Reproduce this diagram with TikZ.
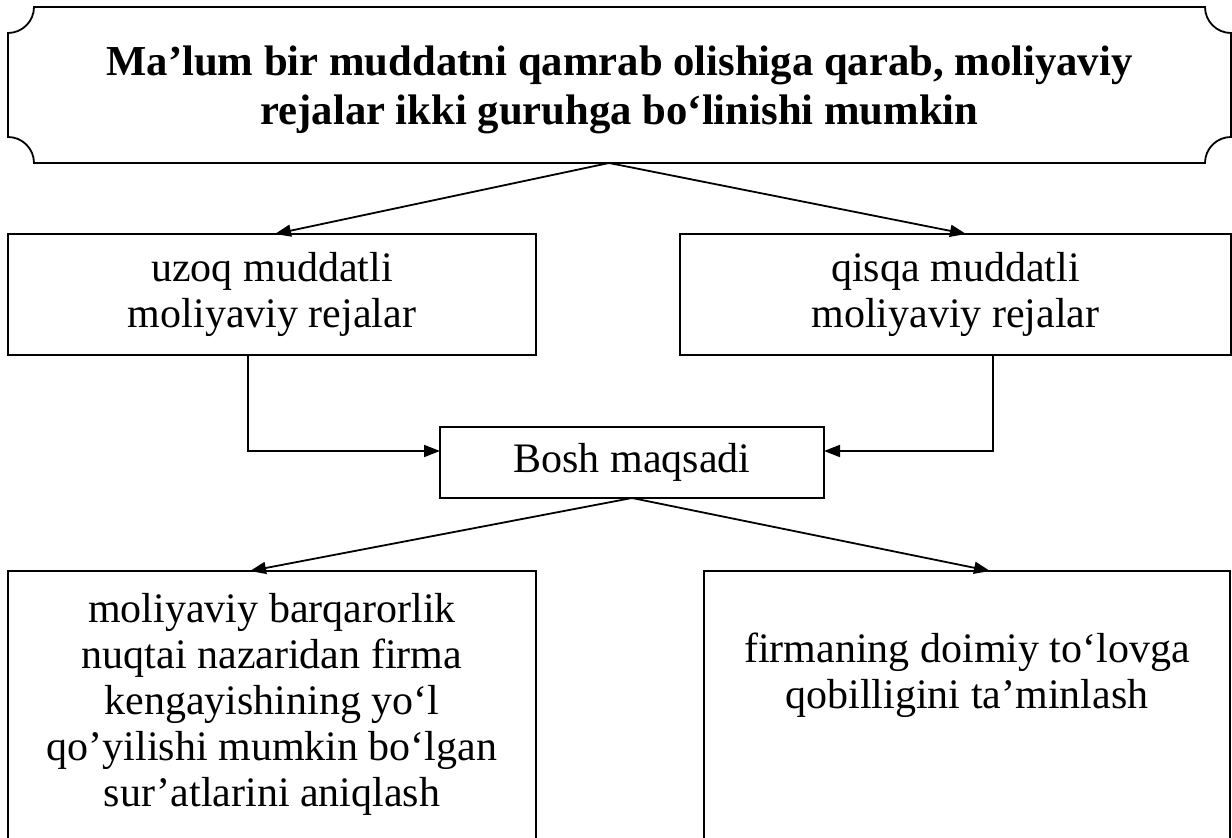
\documentclass[tikz,border=0pt]{standalone}
\usepackage{fontspec}
\setmainfont{Liberation Serif}
\usetikzlibrary{arrows.meta,calc}
\begin{document}
\begin{tikzpicture}[x=1pt,y=1pt,
  frame/.style={draw, line width=1.8pt, inner sep=0pt, outer sep=0pt},
  txt/.style={inner sep=0pt, align=center, font=\fontsize{42}{46}\selectfont},
  conn/.style={line width=1.8pt, -{Triangle[length=16pt,width=12pt]}}]
\useasboundingbox (0,0) rectangle (1232,838);
\clip (0,0) rectangle (1232,838);
% title plaque
\node[minimum width=1223pt, minimum height=156pt, inner sep=0pt, outer sep=0pt] (title) at (619.5,753) {};
\draw[line width=1.8pt] (34,831) -- (1205,831) arc[start angle=180,end angle=270,radius=26]
  -- (1231,701) arc[start angle=90,end angle=180,radius=26]
  -- (34,675) arc[start angle=0,end angle=90,radius=26]
  -- (8,805) arc[start angle=270,end angle=360,radius=26] -- cycle;
\node[txt, font=\bfseries\fontsize{42.7}{49}\selectfont] (titletext) at (619.5,748)
  {Ma’lum bir muddatni qamrab olishiga qarab, moliyaviy\\rejalar ikki guruhga bo‘linishi mumkin};
% boxes
\node[frame, txt, minimum width=528pt, minimum height=121pt] (uzoq) at (272,543.5) {uzoq muddatli\\moliyaviy rejalar};
\node[frame, txt, minimum width=551pt, minimum height=121pt] (qisqa) at (955.5,543.5) {qisqa muddatli\\moliyaviy rejalar};
\node[frame, txt, minimum width=384pt, minimum height=71pt] (bosh) at (632,375.5) {Bosh maqsadi};
\node[frame, minimum width=528pt, minimum height=309pt] (bl) at (272,112.5) {};
\node[txt] (blt) at (272,134) {moliyaviy barqarorlik\\nuqtai nazaridan firma\\kengayishining yo‘l\\qo’yilishi mumkin bo‘lgan\\sur’atlarini aniqlash};
\node[frame, minimum width=526pt, minimum height=309pt] (br) at (967,112.5) {};
\node[txt] (brt) at (967,163) {firmaning doimiy to‘lovga\\qobilligini ta’minlash};
% connectors
\draw[conn] ($(title.south)+(-10.5,0)$) -- ($(uzoq.north)+(3,0)$);
\draw[conn] ($(title.south)+(-10.5,0)$) -- ($(qisqa.north)+(10.5,0)$);
\draw[conn] ($(uzoq.south west)+(240,0)$) |- ($(bosh.west)+(0,11.5)$);
\draw[conn] ($(qisqa.south west)+(313,0)$) |- ($(bosh.east)+(0,11.5)$);
\draw[conn] (bosh.south) -- ($(bl.north)+(-22,0)$);
\draw[conn] (bosh.south) -- ($(br.north)+(23,0)$);
\end{tikzpicture}
\end{document}
